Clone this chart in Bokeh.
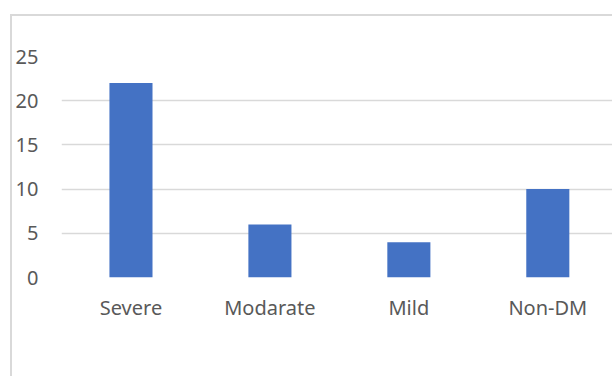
from bokeh.plotting import figure
from bokeh.models import Range1d, FixedTicker, ColumnDataSource
from bokeh.embed import file_html
from bokeh.resources import INLINE

categories = ["Severe", "Modarate", "Mild", "Non-DM"]
values = [22, 6, 4, 10]
y_ticks = [0, 5, 10, 15, 20, 25]

xs = [i + 0.5 for i in range(len(categories))]
src = ColumnDataSource(dict(x=xs, top=values))

p = figure(width=602, height=362, output_backend="svg", toolbar_location=None,
           x_range=Range1d(0, 3.98), y_range=Range1d(0, 25),
           min_border_left=48, min_border_right=0, min_border_top=40, min_border_bottom=101)
p.margin = (14, 0, 0, 10)
p.styles = {"border-left": "2px solid #d9d9d9", "border-top": "2px solid #d9d9d9"}
p.outline_line_color = None
p.background_fill_color = "white"
p.border_fill_color = "white"

p.vbar(x="x", top="top", width=0.31, bottom=0, source=src, fill_color="#4472C4", line_color=None)

font = "Noto Sans"
p.yaxis.ticker = FixedTicker(ticks=y_ticks)
p.yaxis.axis_line_color = None
p.yaxis.major_tick_line_color = None
p.yaxis.minor_tick_line_color = None
p.yaxis.major_label_standoff = 17
p.yaxis.major_label_text_font = font
p.yaxis.major_label_text_font_size = "20px"
p.yaxis.major_label_text_color = "#595959"

p.xaxis.ticker = FixedTicker(ticks=xs)
p.xaxis.major_label_overrides = {x: c for x, c in zip(xs, categories)}
p.xaxis.axis_line_color = None
p.xaxis.major_tick_line_color = None
p.xaxis.minor_tick_line_color = None
p.xaxis.major_label_standoff = 10
p.xaxis.major_label_text_font = font
p.xaxis.major_label_text_font_size = "20px"
p.xaxis.major_label_text_color = "#595959"

p.xgrid.grid_line_color = None
p.ygrid.grid_line_color = "#d9d9d9"
p.ygrid.grid_line_width = 1.5

open("out.html", "w").write(file_html(p, INLINE))
